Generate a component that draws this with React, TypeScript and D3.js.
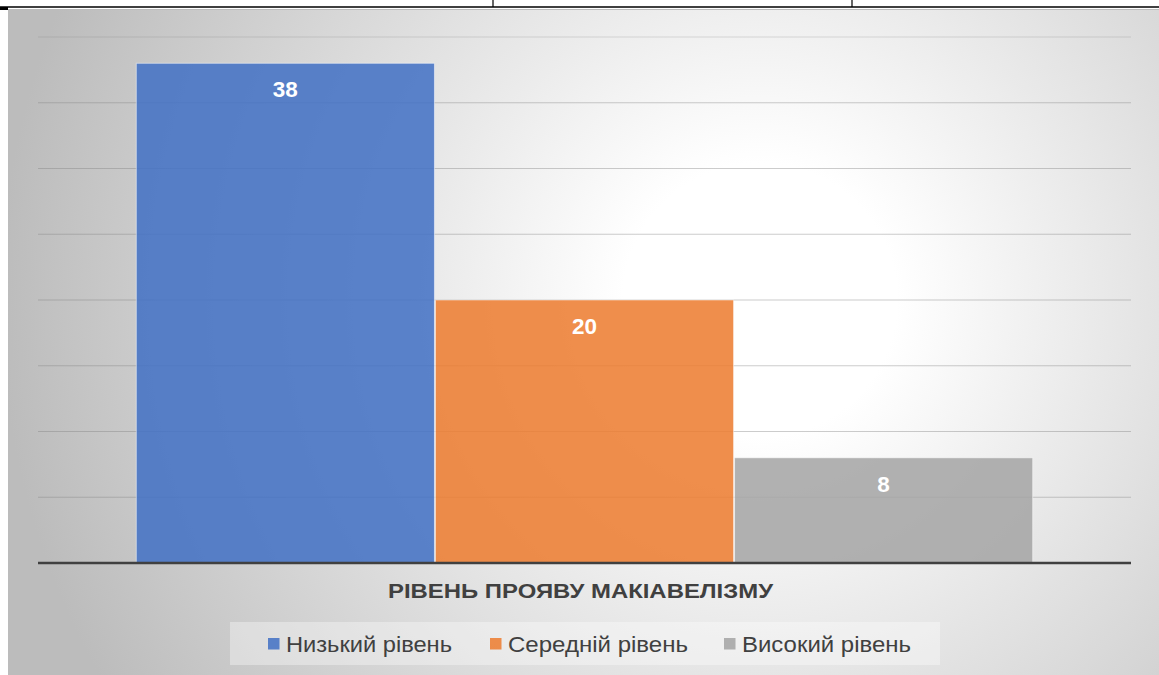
import * as d3 from 'd3';

const WIDTH = 1159;
const HEIGHT = 675;

const category = 'РІВЕНЬ ПРОЯВУ МАКІАВЕЛІЗМУ';
const seriesNames = ['Низький рівень', 'Середній рівень', 'Високий рівень'];
const seriesValues = [38, 20, 8];
const seriesColors = ['#4472C4', '#ED7D31', '#A5A5A5'];
const yTicks = [0, 5, 10, 15, 20, 25, 30, 35, 40];

const PLOT = { left: 38, right: 1131, top: 37, bottom: 563 };
const FONT = '"Liberation Sans", Arial, sans-serif';

export default function App() {
  const y = d3.scaleLinear().domain([0, 40]).range([PLOT.bottom, PLOT.top]);
  const x0 = d3
    .scaleBand()
    .domain([category])
    .range([PLOT.left, PLOT.right])
    .paddingInner(0)
    .paddingOuter(0.109);
  const x1 = d3
    .scaleBand()
    .domain(seriesNames)
    .range([0, x0.bandwidth()])
    .padding(0);
  const cx = x0(category) ?? 0;

  // legend layout (marker x, text width)
  const legendX = [268, 490, 724];
  const legendW = [166, 180, 169];

  return (
    <div style={{ position: 'absolute', left: 0, top: 0 }}>
      <svg width={WIDTH} height={HEIGHT} style={{ display: 'block' }}>
        <defs>
          <radialGradient id="bg" gradientUnits="userSpaceOnUse" cx={760} cy={300} r={760}>
            <stop offset="0" stopColor="#ffffff" />
            <stop offset="0.18" stopColor="#ffffff" />
            <stop offset="1" stopColor="#bcbcbc" />
          </radialGradient>
        </defs>

        {/* table lines above the chart */}
        <line x1={0} x2={WIDTH} y1={7} y2={7} stroke="#000" strokeWidth={1.5} />
        <line x1={493} x2={493} y1={0} y2={7} stroke="#000" strokeWidth={1.2} />
        <line x1={852} x2={852} y1={0} y2={7} stroke="#000" strokeWidth={1.2} />
        <rect x={0} y={7} width={8} height={3} fill="#000" />

        {/* chart background */}
        <rect x={8} y={9} width={WIDTH - 8} height={HEIGHT - 9} fill="url(#bg)" />
        <line x1={8} x2={WIDTH} y1={9.5} y2={9.5} stroke="#bdbdbd" strokeWidth={1} />

        {/* gridlines */}
        {yTicks.slice(1).map((t) => (
          <line
            key={t}
            x1={PLOT.left}
            x2={PLOT.right}
            y1={y(t)}
            y2={y(t)}
            stroke="#7f7f7f"
            strokeOpacity={t === 40 ? 0.25 : 0.4}
            strokeWidth={1.2}
          />
        ))}

        {/* bars */}
        {seriesNames.map((s, i) => {
          const bx = cx + (x1(s) ?? 0);
          const by = y(seriesValues[i]);
          return (
            <g key={s}>
              <rect
                x={bx + 0.5}
                y={by}
                width={x1.bandwidth() - 1}
                height={y(0) - by}
                fill={seriesColors[i]}
                fillOpacity={0.87}
                stroke="#ffffff"
                strokeOpacity={0.5}
                strokeWidth={1}
              />
              <text
                x={bx + x1.bandwidth() / 2}
                y={by + 34}
                textAnchor="middle"
                fontFamily={FONT}
                fontWeight="bold"
                fontSize={22.5}
                fill="#ffffff"
              >
                {seriesValues[i]}
              </text>
            </g>
          );
        })}

        {/* baseline */}
        <line x1={PLOT.left} x2={PLOT.right} y1={y(0)} y2={y(0)} stroke="#404040" strokeWidth={2.5} />

        {/* axis category title */}
        <text
          x={388}
          y={598}
          fontFamily={FONT}
          fontWeight="bold"
          fontSize={21}
          fill="#404040"
          textLength={385}
          lengthAdjust="spacingAndGlyphs"
        >
          {category}
        </text>

        {/* legend */}
        <rect x={230} y={622} width={710} height={43} fill="#ffffff" fillOpacity={0.35} />
        {seriesNames.map((s, i) => (
          <g key={s} transform={`translate(${legendX[i]},0)`}>
            <rect x={0} y={638} width={11.5} height={11.5} fill={seriesColors[i]} fillOpacity={0.87} />
            <text
              x={18}
              y={652}
              fontFamily={FONT}
              fontSize={22}
              fill="#404040"
              textLength={legendW[i]}
              lengthAdjust="spacingAndGlyphs"
            >
              {s}
            </text>
          </g>
        ))}
      </svg>
    </div>
  );
}
